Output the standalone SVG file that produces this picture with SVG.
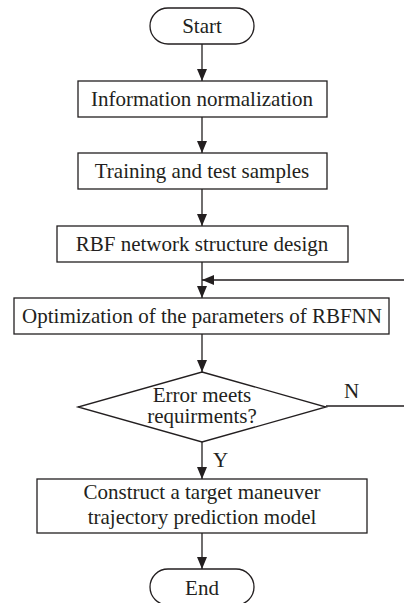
<svg xmlns="http://www.w3.org/2000/svg" width="404" height="603" viewBox="0 0 404 603">
<style>
.shape{fill:#fff;stroke:#231f20;stroke-width:1.3}
.conn{fill:none;stroke:#231f20;stroke-width:1.3}
.t{font-family:"Liberation Serif","Times New Roman",serif;font-size:21px;fill:#231f20;text-anchor:middle}
.lbl{font-family:"Liberation Serif","Times New Roman",serif;font-size:21px;fill:#231f20}
</style>
<defs>
<marker id="arr" markerUnits="userSpaceOnUse" markerWidth="12" markerHeight="10" refX="12" refY="5" orient="auto">
<path d="M0,0 L12,5 L0,10 Z" fill="#231f20"/>
</marker>
</defs>
<rect width="404" height="603" fill="#fff"/>
<g id="connectors">
<path class="conn" d="M202,44 V81" marker-end="url(#arr)"/>
<path class="conn" d="M202,117 V153" marker-end="url(#arr)"/>
<path class="conn" d="M202,189 V226" marker-end="url(#arr)"/>
<path class="conn" d="M202,262 V298" marker-end="url(#arr)"/>
<path class="conn" d="M202,334 V372" marker-end="url(#arr)"/>
<path class="conn" d="M202,442 V479" marker-end="url(#arr)"/>
<path class="conn" d="M202,533 V569" marker-end="url(#arr)"/>
<path class="conn" d="M326,406 H406 V280 H202" marker-end="url(#arr)"/>
<text class="lbl" x="344" y="398">N</text>
<text class="lbl" x="213" y="467">Y</text>
</g>
<g id="start">
<rect class="shape" x="150" y="8" width="104" height="36" rx="18" ry="18"/>
<text class="t" x="202" y="33">Start</text>
</g>
<g id="info">
<rect class="shape" x="78" y="81" width="249" height="36"/>
<text class="t" x="202" y="106">Information normalization</text>
</g>
<g id="samples">
<rect class="shape" x="78" y="153" width="249" height="36"/>
<text class="t" x="202" y="178">Training and test samples</text>
</g>
<g id="rbf">
<rect class="shape" x="57" y="226" width="291" height="36"/>
<text class="t" x="202" y="251">RBF network structure design</text>
</g>
<g id="optimize">
<rect class="shape" x="14" y="298" width="375" height="36"/>
<text class="t" x="202" y="323">Optimization of the parameters of RBFNN</text>
</g>
<g id="decision">
<path class="shape" d="M202,372 L326,407 L202,442 L78,407 Z"/>
<text class="t" x="202" y="402">Error meets</text>
<text class="t" x="202" y="423">requirments?</text>
</g>
<g id="construct">
<rect class="shape" x="37" y="479" width="330" height="54"/>
<text class="t" x="202" y="499">Construct a target maneuver</text>
<text class="t" x="202" y="524">trajectory prediction model</text>
</g>
<g id="end">
<rect class="shape" x="150" y="569" width="104" height="36" rx="18" ry="18"/>
<text class="t" x="202" y="595">End</text>
</g>
</svg>
